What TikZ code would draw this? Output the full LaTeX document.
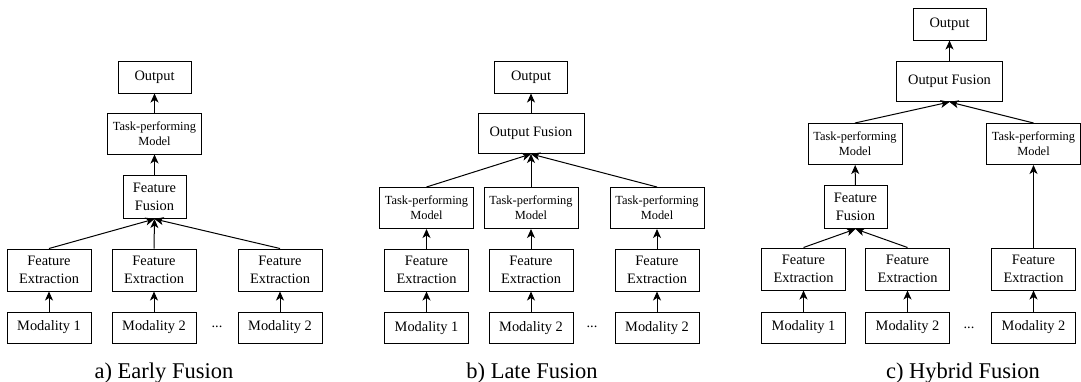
\documentclass[tikz,border=0pt]{standalone}
\usepackage{fontspec}
\setmainfont{Liberation Serif}
\usetikzlibrary{arrows.meta}
\tikzset{
  blk/.style={draw, line width=1pt, inner sep=0pt, align=center,
    font=\rmfamily\fontsize{14.4}{17.5}\selectfont},
  modbox/.style={blk, minimum width=84pt, minimum height=31pt},   % input modality
  febox/.style={blk, minimum width=84pt, minimum height=42pt},    % feature extraction
  ffbox/.style={blk, minimum width=63pt, minimum height=43pt},    % feature fusion
  tpmbox/.style={blk, minimum width=94pt, minimum height=41pt,
    font=\rmfamily\fontsize{12.4}{15}\selectfont},                 % task model
  ofbox/.style={blk, minimum width=106pt, minimum height=40pt},   % output fusion
  outbox/.style={blk, minimum width=73pt, minimum height=32pt},   % output
  dotsep/.style={font=\rmfamily\fontsize{14.4}{17.5}\selectfont},
  arr/.style={-{Stealth[length=9pt,width=8pt,inset=2.5pt]}, line width=1pt},
  caption/.style={anchor=base, font=\rmfamily\fontsize{22.5}{27}\selectfont}
}

\begin{document}
\begin{tikzpicture}[x=1pt, y=-1pt]
  \useasboundingbox (0,0) rectangle (1081,381);
  % a) early fusion
  \foreach \i/\x/\m in {1/49/1, 2/154/2, 3/280/2}{
    \node[modbox] (aM\i) at (\x,327.5) {Modality \m};
    \node[febox] (aF\i) at (\x,270) {Feature\\Extraction};
    \draw[arr] (aM\i) -- (aF\i);
  }
  \node[dotsep] (aDots) at (217,327) {...};
  \node[ffbox] (aFF) at (154.5,197) {Feature\\Fusion};
  \node[tpmbox] (aT) at (154.5,133.5) {Task-performing\\Model};
  \node[outbox] (aO) at (154.5,77) {Output};
  \foreach \i in {1,2,3}
    \draw[arr] (aF\i.north) -- (aFF.south);
  \draw[arr] (aFF) -- (aT);
  \draw[arr] (aT) -- (aO);
  \node[caption] (capA) at (164,378) {a) Early Fusion};

  % b) late fusion
  \foreach \i/\x/\m in {1/426.5/1, 2/531/2, 3/657/2}{
    \node[modbox] (bM\i) at (\x,328) {Modality \m};
    \node[febox] (bF\i) at (\x,270) {Feature\\Extraction};
    \node[tpmbox] (bT\i) at (\x,208) {Task-performing\\Model};
    \draw[arr] (bM\i) -- (bF\i);
    \draw[arr] (bF\i) -- (bT\i);
  }
  \node[dotsep] (bDots) at (592,327) {...};
  \node[ofbox] (bOF) at (531,133.5) {Output Fusion};
  \node[outbox] (bO) at (531,77) {Output};
  \foreach \i in {1,2,3}
    \draw[arr] (bT\i.north) -- (bOF.south);
  \draw[arr] (bOF) -- (bO);
  \node[caption] (capB) at (532,378) {b) Late Fusion};

  % c) hybrid fusion
  \foreach \i/\x/\m in {1/803.5/1, 2/907.5/2, 3/1033.5/2}{
    \node[modbox] (cM\i) at (\x,327.5) {Modality \m};
    \node[febox] (cF\i) at (\x,269) {Feature\\Extraction};
    \draw[arr] (cM\i) -- (cF\i);
  }
  \node[dotsep] (cDots) at (969,328) {...};
  \node[ffbox] (cFF) at (855.5,207) {Feature\\Fusion};
  \node[tpmbox] (cT1) at (855,144) {Task-performing\\Model};
  \node[tpmbox] (cT2) at (1033.5,144) {Task-performing\\Model};
  \node[ofbox] (cOF) at (949.5,81.5) {Output Fusion};
  \node[outbox] (cO) at (949.5,24) {Output};
  \draw[arr] (cF1.north) -- (cFF.south);
  \draw[arr] (cF2.north) -- (cFF.south);
  \draw[arr] (cFF) -- (cT1);
  \draw[arr] (cF3) -- (cT2);
  \draw[arr] (cT1.north) -- (cOF.south);
  \draw[arr] (cT2.north) -- (cOF.south);
  \draw[arr] (cOF) -- (cO);
  \node[caption] (capC) at (963,378) {c) Hybrid Fusion};
\end{tikzpicture}
\end{document}
